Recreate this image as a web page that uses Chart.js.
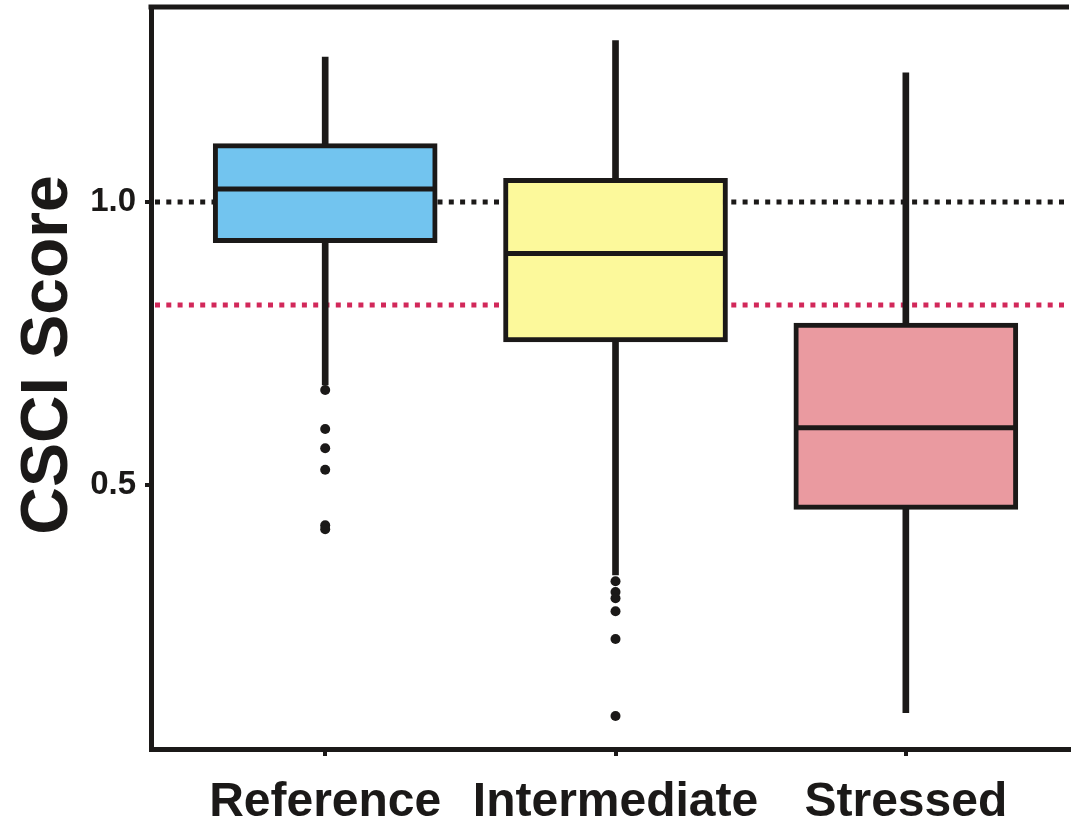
<!DOCTYPE html>
<html>
<head>
<meta charset="utf-8">
<script src="https://cdn.jsdelivr.net/npm/chart.js@4.4.1/dist/chart.umd.min.js"></script>
<style>
  html, body { margin: 0; padding: 0; background: #fff; overflow: hidden; }
  #wrap { width: 1074px; height: 822px; }
</style>
</head>
<body>
<div id="wrap"><canvas id="csciChart"></canvas></div>
<script>
// CSCI score distribution by site class
var groups = ['Reference', 'Intermediate', 'Stressed'];
var q1 = [0.928, 0.753, 0.457];
var q3 = [1.103, 1.042, 0.786];
var medians = [1.023, 0.909, 0.601];
var whiskerLow = [0.677, 0.341, 0.098];
var whiskerHigh = [1.256, 1.285, 1.228];
var outliersReference = [0.668, 0.599, 0.565, 0.527, 0.429, 0.422];
var outliersIntermediate = [0.330, 0.311, 0.300, 0.277, 0.228, 0.092];
var outliersStressed = [];
var yTicks = [0.5, 1.0];
var refLines = [1.0, 0.818];
var yTitle = 'CSCI Score';

var ink = '#1b1918';
var boxColors = ['#72c4ef', '#fcf99b', '#ea9aa0'];
var refLineColors = [ink, '#d2285a'];
var fontFamily = "'Liberation Sans', Arial, sans-serif";

var outlierPoints = [];
[outliersReference, outliersIntermediate, outliersStressed].forEach(function(list, i) {
    list.forEach(function(v) { outlierPoints.push({ x: i + 1, y: v }); });
});

// dotted threshold lines, behind the boxes
var thresholdLines = {
    id: 'thresholdLines',
    beforeDatasetsDraw: function(chart) {
        var ctx = chart.ctx, area = chart.chartArea, y = chart.scales.y;
        ctx.save();
        ctx.lineWidth = 5;
        ctx.setLineDash([5, 6.3]);
        refLines.forEach(function(v, i) {
            var py = y.getPixelForValue(v);
            ctx.strokeStyle = refLineColors[i];
            ctx.beginPath();
            ctx.moveTo(area.left + 4, py);
            ctx.lineTo(area.right, py);
            ctx.stroke();
        });
        ctx.restore();
    }
};

// median bars across each box, the top frame line and the y title
var boxExtras = {
    id: 'boxExtras',
    afterDatasetsDraw: function(chart) {
        var ctx = chart.ctx, area = chart.chartArea, y = chart.scales.y;
        var meta = chart.getDatasetMeta(1);
        ctx.save();
        ctx.strokeStyle = ink;
        ctx.lineWidth = 5;
        meta.data.forEach(function(bar, i) {
            var p = bar.getProps(['x', 'width'], true);
            var py = y.getPixelForValue(medians[i]);
            ctx.beginPath();
            ctx.moveTo(p.x - p.width / 2 + 2, py);
            ctx.lineTo(p.x + p.width / 2 - 2, py);
            ctx.stroke();
        });
        ctx.beginPath();
        ctx.moveTo(area.left - 2.5, area.top);
        ctx.lineTo(area.right, area.top);
        ctx.stroke();

        // axis title sits a little above the axis centre
        ctx.translate(49, (area.top + area.bottom) / 2 - 23);
        ctx.rotate(-Math.PI / 2);
        ctx.fillStyle = ink;
        ctx.font = 'bold 66px ' + fontFamily;
        ctx.textAlign = 'center';
        ctx.textBaseline = 'middle';
        ctx.fillText(yTitle, 0, 0);
        ctx.restore();
    }
};

var ctx = document.getElementById('csciChart').getContext('2d');
var chart = new Chart(ctx, {
    type: 'bar',
    data: {
        datasets: [
            {
                type: 'scatter',
                data: outlierPoints,
                backgroundColor: ink,
                borderWidth: 0,
                pointRadius: 5,
                order: 0
            },
            {
                data: groups.map(function(g, i) { return { x: i + 1, y: [q1[i], q3[i]] }; }),
                backgroundColor: boxColors,
                borderColor: ink,
                borderWidth: 5,
                borderSkipped: false,
                barThickness: 224,
                grouped: false,
                order: 1
            },
            {
                data: groups.map(function(g, i) { return { x: i + 1, y: [whiskerLow[i], whiskerHigh[i]] }; }),
                backgroundColor: ink,
                borderWidth: 0,
                barThickness: 6,
                grouped: false,
                order: 2
            }
        ]
    },
    options: {
        responsive: true,
        maintainAspectRatio: false,
        animation: false,
        layout: { padding: { top: 7 } },
        plugins: {
            legend: { display: false },
            tooltip: { enabled: false }
        },
        scales: {
            x: {
                type: 'linear',
                min: 0.4,
                max: 3.562,
                offset: false,
                afterBuildTicks: function(scale) {
                    scale.ticks = groups.map(function(g, i) { return { value: i + 1 }; });
                },
                afterFit: function(scale) {
                    scale.height = 73;
                    scale.paddingLeft = 0;
                    scale.paddingRight = 0;
                },
                ticks: {
                    color: ink,
                    padding: 18,
                    maxRotation: 0,
                    autoSkip: false,
                    font: { family: fontFamily, size: 48, weight: 'bold' },
                    callback: function(v) { return groups[v - 1]; }
                },
                grid: { display: true, offset: false, drawOnChartArea: false, drawTicks: true, tickLength: 7, lineWidth: 4, color: ink },
                border: { display: true, width: 5, color: ink }
            },
            y: {
                min: 0.0336,
                max: 1.3445,
                afterBuildTicks: function(scale) {
                    scale.ticks = yTicks.map(function(v) { return { value: v }; });
                },
                afterFit: function(scale) {
                    scale.width = 151;
                    scale.paddingTop = 0;
                    scale.paddingBottom = 0;
                },
                ticks: {
                    color: ink,
                    padding: 9,
                    font: { family: fontFamily, size: 33, weight: 'bold' },
                    callback: function(v) { return v.toFixed(1); }
                },
                grid: { display: true, drawOnChartArea: false, drawTicks: true, tickLength: 6, lineWidth: 4, color: ink },
                border: { display: true, width: 5, color: ink }
            }
        }
    },
    plugins: [thresholdLines, boxExtras]
});
</script>
</body>
</html>
